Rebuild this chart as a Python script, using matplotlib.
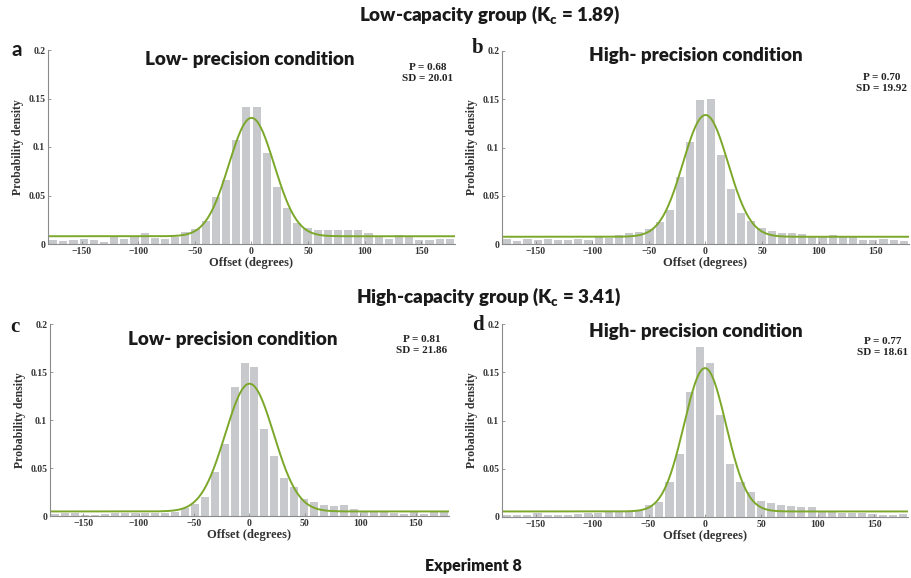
import numpy as np
import matplotlib.pyplot as plt

# 40 bins of 9 degrees from -180 to 180
bin_centers = np.arange(-175.5, 180, 9)

# probability per bin
dens_a = [0.004, 0.003, 0.004, 0.005, 0.004, 0.002, 0.0075, 0.005, 0.007, 0.011,
          0.006, 0.005, 0.0075, 0.012, 0.015, 0.024, 0.048, 0.066, 0.107, 0.141,
          0.141, 0.094, 0.059, 0.037, 0.022, 0.016, 0.014, 0.014, 0.014, 0.014,
          0.014, 0.011, 0.008, 0.005, 0.009, 0.007, 0.004, 0.004, 0.005, 0.005]
dens_b = [0.005, 0.003, 0.0055, 0.004, 0.0055, 0.0045, 0.004, 0.0055, 0.004, 0.007,
          0.0065, 0.009, 0.011, 0.012, 0.0155, 0.023, 0.035, 0.069, 0.106, 0.149,
          0.150, 0.092, 0.057, 0.032, 0.024, 0.017, 0.013, 0.011, 0.011, 0.010,
          0.007, 0.007, 0.009, 0.007, 0.007, 0.004, 0.004, 0.0055, 0.004, 0.003]
dens_c = [0.0025, 0.003, 0.0035, 0.001, 0.001, 0.0017, 0.003, 0.0035, 0.0035, 0.0035,
          0.003, 0.0035, 0.0045, 0.008, 0.012, 0.020, 0.046, 0.075, 0.134, 0.159,
          0.155, 0.091, 0.063, 0.040, 0.030, 0.018, 0.015, 0.0115, 0.010, 0.011,
          0.007, 0.004, 0.004, 0.004, 0.0035, 0.0025, 0.004, 0.0025, 0.004, 0.004]
dens_d = [0.002, 0.002, 0.002, 0.004, 0.0025, 0.002, 0.002, 0.0035, 0.004, 0.004,
          0.005, 0.005, 0.0055, 0.0066, 0.0128, 0.0156, 0.036, 0.065, 0.130, 0.176,
          0.160, 0.106, 0.055, 0.036, 0.026, 0.0163, 0.0146, 0.012, 0.011, 0.010,
          0.010, 0.0055, 0.005, 0.004, 0.004, 0.004, 0.003, 0.002, 0.002, 0.003]

# fitted mixture parameters shown on each panel
p_vals = [0.68, 0.70, 0.81, 0.77]
sd_vals = [20.01, 19.92, 21.86, 18.61]

letters = ['a', 'b', 'c', 'd']
titles = ['Low- precision condition', 'High- precision condition',
          'Low- precision condition', 'High- precision condition']
group_titles = ['Low-capacity group (K$_\\mathregular{c}$ = 1.89)',
                'High-capacity group (K$_\\mathregular{c}$ = 3.41)']

W, H = 912, 578
def fx(x):
    return x / W
def fy(y):
    return 1 - y / H

serif = 'Liberation Serif'
sans = 'Lato'
bar_col = '#c8c9cc'
fit_col = '#7ba72a'
axis_col = '#8a8a8a'

fig = plt.figure(figsize=(9.12, 5.78), dpi=100)

# axes boxes in pixels: left, top(0.2), right, bottom(0)
boxes = [(48, 50, 455, 244), (502, 51, 909, 244),
         (50, 324, 449, 516), (502, 324, 908, 517)]
title_xy = [(250, 60), (696, 55), (233, 339), (696, 332)]
stat_xy = [(428, 63), (882, 73), (422, 335), (883, 337)]
letter_xy = [(17, 50), (478, 48), (15, 327), (478, 325)]

all_dens = [dens_a, dens_b, dens_c, dens_d]
xs = np.linspace(-180, 180, 721)

for i in range(4):
    l, t, r, b = boxes[i]
    ax = fig.add_axes([fx(l), fy(b), (r - l) / W, (b - t) / H])
    ax.bar(bin_centers, all_dens[i], width=7.2, color=bar_col, edgecolor='none', zorder=1)
    p, sd = p_vals[i], sd_vals[i]
    fit = p * 9 * np.exp(-0.5 * (xs / sd) ** 2) / (sd * np.sqrt(2 * np.pi)) + (1 - p) / 40
    ax.plot(xs, fit, color=fit_col, lw=1.4, zorder=2)
    ax.set_xlim(-180, 180)
    ax.set_ylim(0, 0.2)
    ax.set_xticks([-150, -100, -50, 0, 50, 100, 150])
    ax.set_yticks([0, 0.05, 0.1, 0.15, 0.2])
    ax.set_yticklabels(['0', '0.05', '0.1', '0.15', '0.2'])
    for s in ['top', 'right']:
        ax.spines[s].set_visible(False)
    for s in ['left', 'bottom']:
        ax.spines[s].set_color(axis_col)
        ax.spines[s].set_linewidth(0.8)
    ax.tick_params(direction='in', length=2.5, width=0.6, color=axis_col,
                   labelsize=7, pad=2, labelcolor='#333333')
    for lab in ax.get_xticklabels() + ax.get_yticklabels():
        lab.set_fontfamily(serif)
        lab.set_fontweight('bold')
    ax.set_xlabel('Offset (degrees)', fontfamily=serif, fontweight='bold',
                  fontsize=9, labelpad=1, color='#333333')
    ax.set_ylabel('Probability density', fontfamily=serif, fontweight='bold',
                  fontsize=8.5, labelpad=3, color='#333333')

    tx, ty = title_xy[i]
    fig.text(fx(tx), fy(ty), titles[i], fontfamily=sans, fontweight='heavy',
             fontsize=13.5, ha='center', va='center', color='#1a1a1a')
    sx, sy = stat_xy[i]
    fig.text(fx(sx), fy(sy), 'P = %.2f\nSD = %.2f' % (p, sd), fontfamily=serif,
             fontweight='bold', fontsize=8, ha='center', va='top',
             linespacing=1.25, color='#222222')
    lx, ly = letter_xy[i]
    fig.text(fx(lx), fy(ly), letters[i], fontfamily=sans if i == 0 else serif,
             fontweight='bold', fontsize=15, ha='center', va='center', color='#1a1a1a')

fig.text(fx(490), fy(15), group_titles[0], fontfamily=sans, fontweight='heavy',
         fontsize=13.5, ha='center', va='center', color='#1a1a1a')
fig.text(fx(489), fy(297), group_titles[1], fontfamily=sans, fontweight='heavy',
         fontsize=13.5, ha='center', va='center', color='#1a1a1a')
fig.text(fx(473), fy(566), 'Experiment 8', fontfamily=sans, fontweight='heavy',
         fontsize=11.5, ha='center', va='center', color='#1a1a1a')

fig.savefig('out.png', dpi=100, facecolor='white')
